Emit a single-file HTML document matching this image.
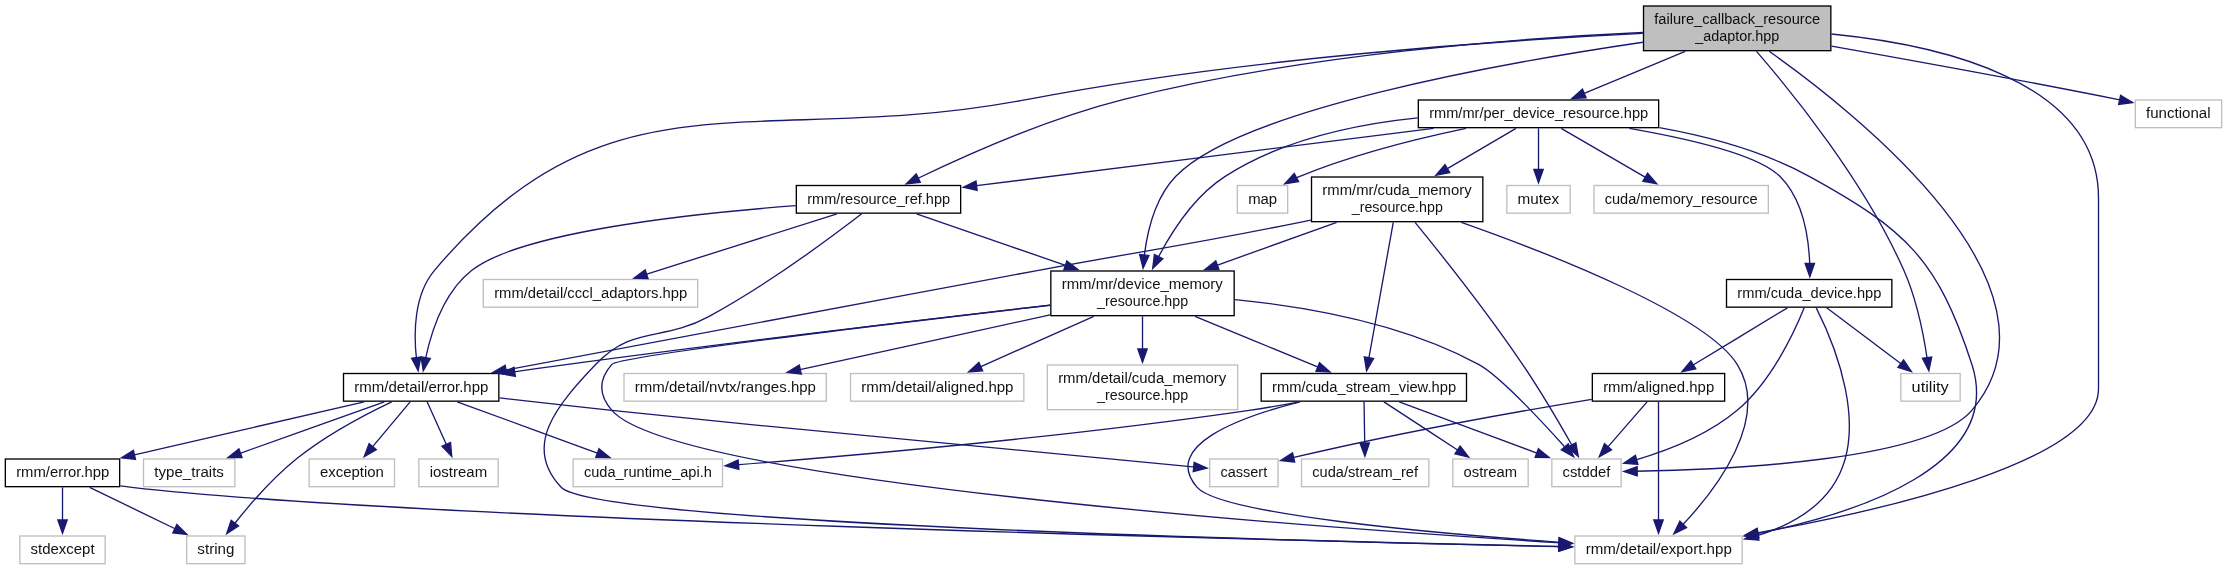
<!DOCTYPE html>
<html lang="en"><head><meta charset="utf-8"><title>failure_callback_resource_adaptor.hpp - include dependency graph</title>
<style>
html,body{margin:0;padding:0;background:#fff;}
body{width:2227px;height:570px;overflow:hidden;}
svg{display:block;will-change:transform;}
.n rect{fill:#fff;stroke:#000;stroke-width:1.3333;}
.n.r rect{fill:#bfbfbf;}
.n.x rect{stroke:#bfbfbf;}
.n text{font-family:"Liberation Sans",sans-serif;font-size:14px;fill:#000;fill-opacity:.93;}
.e path{fill:none;stroke:#191970;stroke-width:1.3333;}
.e polygon{fill:#191970;stroke:#191970;stroke-width:1.3333;}
</style></head><body>
<svg width="2227" height="570" viewBox="0 0 2227 570">
<rect x="0" y="0" width="2227" height="570" fill="#fff"/>
<g class="n r"><rect x="1643.51" y="6" width="187.33" height="44.67"/><text x="1654.23" y="24" textLength="165.91" lengthAdjust="spacingAndGlyphs">failure_callback_resource</text><text x="1695.26" y="41" textLength="84.06" lengthAdjust="spacingAndGlyphs">_adaptor.hpp</text></g>
<g class="n"><rect x="343.51" y="373.51" width="155.33" height="27.65"/><text x="354.34" y="392" textLength="134.05" lengthAdjust="spacingAndGlyphs">rmm/detail/error.hpp</text></g>
<g class="e"><path d="M1642.84,33.44C1506.18,40.16 1245.67,57.61 1027.84,99.33 758.29,150.96 611.81,60.87 434.51,270.33 413.53,295.09 413.61,334.28 416.6,360.05"/><polygon points="420.87,356.98 418.16,370.84 411.63,358.32"/></g>
<g class="n x"><rect x="1574.84" y="536" width="167.33" height="27.67"/><text x="1585.66" y="554" textLength="146.18" lengthAdjust="spacingAndGlyphs">rmm/detail/export.hpp</text></g>
<g class="e"><path d="M1831.51,34.01C1938.57,44.6 2098.51,80.13 2098.51,198 2098.51,198 2098.51,198 2098.51,388.67 2098.51,461.47 1883,510.65 1753.63,533.63"/><polygon points="1758.77,537.46 1744.83,535.16 1757.16,528.26"/></g>
<g class="n"><rect x="1050.84" y="271" width="183.33" height="44.67"/><text x="1061.67" y="289" textLength="161.1" lengthAdjust="spacingAndGlyphs">rmm/mr/device_memory</text><text x="1097.09" y="306" textLength="91.07" lengthAdjust="spacingAndGlyphs">_resource.hpp</text></g>
<g class="e"><path d="M1642.84,42.26C1500.28,63.23 1239.79,109.66 1175.84,176.33 1155.05,197.99 1147.11,231.75 1144.12,257.21"/><polygon points="1148.96,255.46 1143.12,268.32 1139.67,254.62"/></g>
<g class="n x"><rect x="1551.84" y="459" width="69.33" height="27.67"/><text x="1562.57" y="477" textLength="47.75" lengthAdjust="spacingAndGlyphs">cstddef</text></g>
<g class="e"><path d="M1769.15,51.33C1854.99,112 2076.98,287.18 1971.84,410.33 1929.05,460.44 1728.83,469.71 1635.11,471.28"/><polygon points="1637.26,475.91 1623.86,471.43 1637.12,466.58"/></g>
<g class="n"><rect x="1418.33" y="100" width="240.33" height="27.67"/><text x="1429.19" y="118" textLength="219.05" lengthAdjust="spacingAndGlyphs">rmm/mr/per_device_resource.hpp</text></g>
<g class="e"><path d="M1685.21,51.33C1652.82,64.84 1611.64,82.01 1581.16,94.72"/><polygon points="1586.05,97.73 1571.95,98.56 1582.46,89.12"/></g>
<g class="n x"><rect x="1900.84" y="373.51" width="59.33" height="27.65"/><text x="1911.56" y="392" textLength="37.23" lengthAdjust="spacingAndGlyphs">utility</text></g>
<g class="e"><path d="M1756.51,51.33C1791.34,91.54 1864.66,181.67 1903.84,270.33 1916.75,299.55 1923.8,335.77 1927.35,359.81"/><polygon points="1931.68,357.01 1928.84,370.84 1922.44,358.25"/></g>
<g class="n"><rect x="796.33" y="185.51" width="164.33" height="27.65"/><text x="807.2" y="204" textLength="142.9" lengthAdjust="spacingAndGlyphs">rmm/resource_ref.hpp</text></g>
<g class="e"><path d="M1642.84,32.53C1521.19,37.99 1303.87,53.79 1123.84,99.33 1047.15,118.73 962.56,156.71 915.44,179.48"/><polygon points="920.29,182.29 906.27,183.95 916.2,173.9"/></g>
<g class="n x"><rect x="2135.33" y="100" width="86.33" height="27.67"/><text x="2146.05" y="118" textLength="64.45" lengthAdjust="spacingAndGlyphs">functional</text></g>
<g class="e"><path d="M1831.51,46.15C1908.49,59.79 2020.02,80 2117.17,99.33 2118.61,99.63 2120.07,99.92 2121.55,100.21"/><polygon points="2120.58,95.25 2132.69,102.51 2118.69,104.38"/></g>
<g class="n"><rect x="5.33" y="459" width="114.33" height="27.67"/><text x="16.17" y="477" textLength="93.17" lengthAdjust="spacingAndGlyphs">rmm/error.hpp</text></g>
<g class="e"><path d="M364.21,401.83C300.6,416.51 197.73,440.27 130.09,455.89"/><polygon points="135.5,459.43 121.46,457.88 133.4,450.33"/></g>
<g class="n x"><rect x="186.67" y="536" width="58.33" height="27.67"/><text x="197.37" y="554" textLength="37" lengthAdjust="spacingAndGlyphs">string</text></g>
<g class="e"><path d="M391.72,401.83C365.49,414.31 326.78,434.65 297.17,458.33 272.63,477.96 249.08,505.29 233.71,524.72"/><polygon points="238.57,526.06 226.71,533.74 231.19,520.34"/></g>
<g class="n x"><rect x="573.17" y="459" width="149.33" height="27.67"/><text x="583.92" y="477" textLength="127.96" lengthAdjust="spacingAndGlyphs">cuda_runtime_api.h</text></g>
<g class="e"><path d="M457.16,401.83C496.01,416.02 558.01,438.68 600.71,454.28"/><polygon points="599,448.68 609.92,457.64 595.8,457.45"/></g>
<g class="n x"><rect x="1209.67" y="459" width="68.33" height="27.67"/><text x="1220.41" y="477" textLength="46.81" lengthAdjust="spacingAndGlyphs">cassert</text></g>
<g class="e"><path d="M499.51,397.87C533.95,401.84 574.88,406.44 611.84,410.33 829.63,433.24 1089.97,457.43 1195.69,467.12"/><polygon points="1194.14,462.28 1206.99,468.15 1193.28,471.58"/></g>
<g class="n x"><rect x="309.17" y="459" width="85.33" height="27.67"/><text x="319.9" y="477" textLength="63.95" lengthAdjust="spacingAndGlyphs">exception</text></g>
<g class="e"><path d="M410.16,401.83C399.76,414.24 383.94,433.15 371.4,448.13"/><polygon points="376.29,449.56 364.15,456.79 369.13,443.57"/></g>
<g class="n x"><rect x="418.84" y="459" width="79.33" height="27.67"/><text x="429.72" y="477" textLength="57.39" lengthAdjust="spacingAndGlyphs">iostream</text></g>
<g class="e"><path d="M427.1,401.83C432.47,413.75 440.55,431.65 447.16,446.32"/><polygon points="450.51,442.43 451.73,456.49 442,446.25"/></g>
<g class="n x"><rect x="143.51" y="459" width="91.33" height="27.67"/><text x="154.26" y="477" textLength="69.66" lengthAdjust="spacingAndGlyphs">type_traits</text></g>
<g class="e"><path d="M384.33,401.83C344.57,416.02 281.1,438.68 237.4,454.28"/><polygon points="242.06,457.58 227.94,457.66 238.93,448.78"/></g>
<g class="e"><path d="M120.33,485.81C124.22,486.39 128.07,486.91 131.84,487.33 410.39,519.19 1269.91,540.15 1560.97,546.48"/><polygon points="1558.93,541.76 1572.16,546.72 1558.73,551.1"/></g>
<g class="n x"><rect x="19.84" y="536" width="85.33" height="27.67"/><text x="30.55" y="554" textLength="64.01" lengthAdjust="spacingAndGlyphs">stdexcept</text></g>
<g class="e"><path d="M62.51,487.33C62.51,496.96 62.51,510.32 62.51,522.12"/><polygon points="67.17,519.98 62.51,533.32 57.84,519.98"/></g>
<g class="e"><path d="M89.66,487.33C114.11,499.18 150.29,516.73 177.64,529.99"/><polygon points="176.9,524.44 186.86,534.45 172.83,532.84"/></g>
<g class="e"><path d="M1050.17,305.11C936.56,318.13 737.82,341.48 567.84,364.33 549.87,366.75 530.69,369.48 512.33,372.16"/><polygon points="515.37,376.43 501.5,373.75 514.01,367.2"/></g>
<g class="e"><path d="M1050.17,305.22C900.08,322.62 619.01,356.15 611.84,364.33 598.35,379.71 598.37,394.95 611.84,410.33 673.92,481.36 1312.96,527.49 1560.91,542.85"/><polygon points="1559.15,538.07 1572.16,543.53 1558.57,547.37"/></g>
<g class="n"><rect x="1261.17" y="373.51" width="205.33" height="27.65"/><text x="1272.02" y="392" textLength="184.06" lengthAdjust="spacingAndGlyphs">rmm/cuda_stream_view.hpp</text></g>
<g class="e"><path d="M1195,316.33C1233.32,332.15 1284.65,353.32 1320.61,368.16"/><polygon points="1319.54,362.67 1330.07,372.07 1315.98,371.3"/></g>
<g class="e"><path d="M1234.84,299.6C1305.21,306.62 1402.59,323.56 1478.51,364.33 1498.63,375.15 1540.89,420.31 1566.16,448.44"/><polygon points="1568.26,443.77 1573.65,456.83 1561.29,449.99"/></g>
<g class="n x"><rect x="850.51" y="373.51" width="173.33" height="27.65"/><text x="861.33" y="392" textLength="152.16" lengthAdjust="spacingAndGlyphs">rmm/detail/aligned.hpp</text></g>
<g class="e"><path d="M1093.8,316.33C1058.55,332 1011.47,352.95 978.16,367.77"/><polygon points="982.68,370.86 968.6,372.02 978.88,362.34"/></g>
<g class="n x"><rect x="1047.33" y="365" width="190.33" height="44.67"/><text x="1058.17" y="383" textLength="168.13" lengthAdjust="spacingAndGlyphs">rmm/detail/cuda_memory</text><text x="1097.08" y="400" textLength="91.07" lengthAdjust="spacingAndGlyphs">_resource.hpp</text></g>
<g class="e"><path d="M1142.51,316.33C1142.51,326.85 1142.51,339.74 1142.51,351.56"/><polygon points="1147.17,348.98 1142.51,362.32 1137.84,348.98"/></g>
<g class="n x"><rect x="624" y="373.51" width="202.33" height="27.65"/><text x="634.83" y="392" textLength="181.11" lengthAdjust="spacingAndGlyphs">rmm/detail/nvtx/ranges.hpp</text></g>
<g class="e"><path d="M1050.17,314.88C973.29,331.7 865.44,355.3 795.44,370.63"/><polygon points="801.29,374.12 787.27,372.41 799.29,365"/></g>
<g class="e"><path d="M1300.03,401.83C1238.92,417.23 1160.95,446 1197.17,487.33 1220.73,514.23 1432.36,533.19 1560.65,542.31"/><polygon points="1559.19,537.53 1572.16,543.11 1558.53,546.83"/></g>
<g class="e"><path d="M1299.46,401.83C1283.1,404.9 1265.53,407.96 1249.17,410.33 1067.61,436.67 853.57,455.56 736.11,464.89"/><polygon points="738.84,469.36 725.18,465.76 738.1,460.05"/></g>
<g class="n x"><rect x="1301.51" y="459" width="127.33" height="27.67"/><text x="1312.25" y="477" textLength="105.77" lengthAdjust="spacingAndGlyphs">cuda/stream_ref</text></g>
<g class="e"><path d="M1364.05,401.83C1364.24,413.5 1364.51,430.91 1364.75,445.4"/><polygon points="1369.37,442.92 1364.92,456.32 1360.04,443.06"/></g>
<g class="e"><path d="M1399.19,401.83C1437.35,416.02 1498.26,438.68 1540.21,454.28"/><polygon points="1538.42,448.64 1549.28,457.65 1535.15,457.39"/></g>
<g class="n x"><rect x="1452.84" y="459" width="75.33" height="27.67"/><text x="1463.57" y="477" textLength="53.41" lengthAdjust="spacingAndGlyphs">ostream</text></g>
<g class="e"><path d="M1383.94,401.83C1404.27,415.11 1435.93,435.81 1459.47,451.2"/><polygon points="1460.08,446.03 1468.68,457.23 1454.97,453.84"/></g>
<g class="e"><path d="M1659.33,127.71C1708.08,136.45 1763.48,151.25 1809.17,176.33 1906.03,229.51 1937.8,259.21 1971.84,364.33 2004.44,465.01 1859.83,512.83 1756.21,533.83"/><polygon points="1758.79,538.07 1744.82,536.05 1757.01,528.91"/></g>
<g class="e"><path d="M1417.67,117.83C1355.93,124.14 1282.06,139.75 1225.17,176.33 1194.31,196.19 1171.41,231.99 1157.63,258.52"/><polygon points="1162.78,258.65 1152.69,268.53 1154.42,254.5"/></g>
<g class="n"><rect x="1726.51" y="279.51" width="165.33" height="27.65"/><text x="1737.36" y="298" textLength="143.95" lengthAdjust="spacingAndGlyphs">rmm/cuda_device.hpp</text></g>
<g class="e"><path d="M1629.36,128.33C1688.5,138.7 1758.47,154.98 1779.84,176.33 1803.35,199.84 1808.91,239.33 1809.79,265.53"/><polygon points="1814.44,263.46 1809.84,276.82 1805.11,263.52"/></g>
<g class="n"><rect x="1311.51" y="177" width="171.33" height="44.67"/><text x="1322.35" y="195" textLength="149.23" lengthAdjust="spacingAndGlyphs">rmm/mr/cuda_memory</text><text x="1351.76" y="212" textLength="91.07" lengthAdjust="spacingAndGlyphs">_resource.hpp</text></g>
<g class="e"><path d="M1516.04,128.33C1496.93,139.53 1468.86,155.98 1444.79,170.09"/><polygon points="1449.73,172.61 1435.87,175.31 1445.01,164.55"/></g>
<g class="e"><path d="M1433.62,128.33C1307.27,144.18 1096.76,170.6 974.51,185.95"/><polygon points="977.13,190.32 963.33,187.36 975.97,181.06"/></g>
<g class="n x"><rect x="1594" y="185.51" width="174.33" height="27.65"/><text x="1604.74" y="204" textLength="152.94" lengthAdjust="spacingAndGlyphs">cuda/memory_resource</text></g>
<g class="e"><path d="M1561.18,128.33C1584.49,141.87 1621.04,163.09 1647.68,178.56"/><polygon points="1647.56,173.09 1656.75,183.83 1642.88,181.16"/></g>
<g class="n x"><rect x="1237.33" y="185.51" width="50.33" height="27.65"/><text x="1248.16" y="204" textLength="28.98" lengthAdjust="spacingAndGlyphs">map</text></g>
<g class="e"><path d="M1465.98,128.33C1417.79,138.39 1353.73,154.28 1299.84,176.33 1297.73,177.19 1295.61,178.15 1293.49,179.17"/><polygon points="1298.68,181.69 1284.72,183.89 1294.26,173.47"/></g>
<g class="n x"><rect x="1506.83" y="185.51" width="63.35" height="27.65"/><text x="1517.64" y="204" textLength="41.59" lengthAdjust="spacingAndGlyphs">mutex</text></g>
<g class="e"><path d="M1538.51,128.33C1538.51,140.02 1538.51,157.42 1538.51,171.91"/><polygon points="1543.17,169.49 1538.51,182.82 1533.84,169.49"/></g>
<g class="e"><path d="M1816.25,307.83C1833.18,341.29 1871.72,430.96 1831.84,487.33 1813.93,512.64 1784.67,527.55 1755.23,536.31"/><polygon points="1758.88,540.16 1744.79,539.1 1756.46,531.14"/></g>
<g class="e"><path d="M1804.2,307.83C1794.66,331.46 1771.63,381.32 1737.17,410.33 1707.51,435.31 1666.29,451.09 1634.47,460.36"/><polygon points="1637.88,464.26 1623.78,463.3 1635.41,455.26"/></g>
<g class="n"><rect x="1592.33" y="373.51" width="132.33" height="27.65"/><text x="1603.17" y="392" textLength="111.02" lengthAdjust="spacingAndGlyphs">rmm/aligned.hpp</text></g>
<g class="e"><path d="M1787.44,307.83C1762.17,323.16 1720.18,348.61 1691.01,366.29"/><polygon points="1695.76,368.87 1681.94,371.79 1690.92,360.89"/></g>
<g class="e"><path d="M1826.66,307.83C1846.65,322.88 1879.62,347.69 1903.04,365.33"/><polygon points="1903.56,359.88 1911.4,371.63 1897.95,367.33"/></g>
<g class="e"><path d="M1658.51,401.83C1658.51,428.04 1658.51,487.26 1658.51,521.91"/><polygon points="1663.17,519.98 1658.51,533.32 1653.84,519.98"/></g>
<g class="e"><path d="M1591.67,399.29C1520.21,411.07 1403.35,431.63 1291.65,457.93"/><polygon points="1294.67,462.02 1280.63,460.56 1292.51,452.94"/></g>
<g class="e"><path d="M1647.06,401.83C1636.17,414.36 1619.51,433.52 1606.43,448.57"/><polygon points="1611.54,449.81 1599.26,456.81 1604.49,443.69"/></g>
<g class="e"><path d="M1310.84,220.07C1307.12,220.84 1303.44,221.6 1299.84,222.33 1184.11,245.84 1154.61,248.79 1038.51,270.33 845.45,306.15 618.56,348.8 500.95,370.96"/><polygon points="506.91,374.59 492.94,372.47 505.18,365.41"/></g>
<g class="e"><path d="M1461.41,222.33C1550.94,253.98 1705.85,314.49 1737.17,364.33 1771.2,418.49 1715.69,489.92 1681.76,525.83"/><polygon points="1686.55,527.61 1673.89,533.89 1679.87,521.09"/></g>
<g class="e"><path d="M1336.77,222.33C1299.98,235.52 1252.81,252.44 1214.15,266.31"/><polygon points="1218.95,269.55 1204.81,269.65 1215.8,260.76"/></g>
<g class="e"><path d="M1393.27,222.33C1387.12,256.55 1375.17,322.98 1368.55,359.83"/><polygon points="1373.51,358.56 1366.56,370.85 1364.32,356.91"/></g>
<g class="e"><path d="M1415.05,222.33C1440.15,253.12 1486.76,311.63 1522.51,364.33 1541.04,391.67 1560.17,424.43 1572.64,446.47"/><polygon points="1575.85,442.67 1578.29,456.57 1567.71,447.23"/></g>
<g class="e"><path d="M795.67,205.67C691.69,213.49 521,231.88 471.84,270.33 443.72,292.33 430.87,333.15 425.24,359.93"/><polygon points="430.24,358.58 423.24,370.86 421.05,356.9"/></g>
<g class="e"><path d="M861.7,213.83C832.07,236.62 768.08,284.15 709.17,316.33 661.16,342.56 633.59,324.75 595.84,364.33 556.64,405.43 522.13,446.07 561.17,487.33 595.27,523.39 1298.55,541.24 1560.93,546.65"/><polygon points="1558.92,541.95 1572.16,546.88 1558.73,551.28"/></g>
<g class="e"><path d="M916.54,213.83C956.09,227.51 1018.99,249.27 1068.4,266.36"/><polygon points="1066.9,260.9 1077.97,269.67 1063.85,269.73"/></g>
<g class="n x"><rect x="483.33" y="279.51" width="214.33" height="27.65"/><text x="494.18" y="298" textLength="193.09" lengthAdjust="spacingAndGlyphs">rmm/detail/cccl_adaptors.hpp</text></g>
<g class="e"><path d="M836.99,213.83C785.78,230.07 698.63,257.71 642.87,275.4"/><polygon points="648.04,278.66 633.92,278.23 645.21,269.75"/></g>
</svg>
</body></html>
